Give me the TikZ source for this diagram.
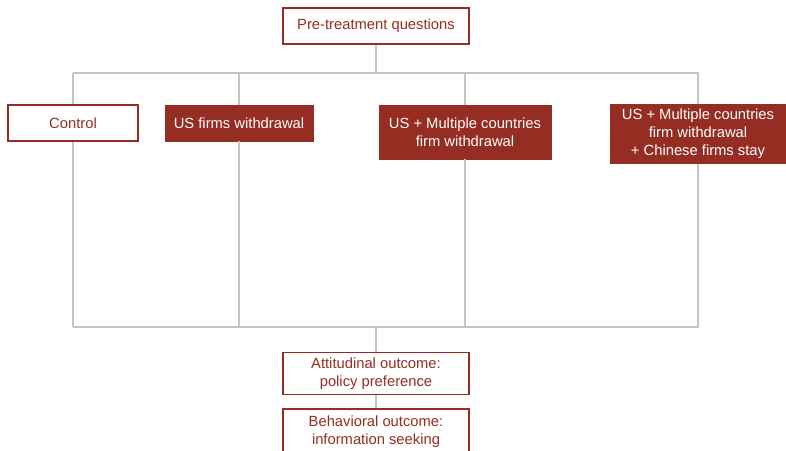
\documentclass[tikz,border=0pt]{standalone}
\usepackage{fontspec}
\setmainfont{Liberation Sans}
\definecolor{brick}{HTML}{962D22}
\definecolor{linegray}{HTML}{C4C4C4}

\begin{document}
\begin{tikzpicture}[
                x=0.03cm, y=-0.03cm,
                box/.style={rectangle, align=center, inner sep=0pt,
                    font=\fontsize{12.6}{15.3}\selectfont},
                openbox/.style={box, draw=brick, line width=1.3pt, fill=white, text=brick},
                fullbox/.style={box, draw=brick, line width=0.6pt, fill=brick, text=white},
                link/.style={draw=linegray, line width=1.6pt}]
        \useasboundingbox (0,0) rectangle (786,451);

        % Rails that collect the four arms.
        \coordinate (topL) at (73,73);
        \coordinate (topR) at (699,73);
        \coordinate (botL) at (73,327);
        \coordinate (botR) at (699,327);

        % Pre-treatment and the four arms.
        \node[openbox, minimum width=186*0.03cm, minimum height=36*0.03cm] (pre) at (376,26) {Pre-treatment questions};
        \node[openbox, minimum width=130*0.03cm, minimum height=36*0.03cm] (ctrl) at (73,123) {Control};
        \node[fullbox, minimum width=148*0.03cm, minimum height=36*0.03cm] (usw) at (239,123) {US firms withdrawal};
        \node[fullbox, minimum width=172*0.03cm, minimum height=54*0.03cm] (multi) at (465,132) {US + Multiple countries\\firm withdrawal};
        \node[fullbox, minimum width=176*0.03cm, minimum height=59*0.03cm] (china) at (698,134) {US + Multiple countries\\firm withdrawal\\+ Chinese firms stay};

        % Outcomes; the last box runs past the lower edge.
        \node[openbox, minimum width=186*0.03cm, minimum height=42*0.03cm] (att) at (376,373.5) {Attitudinal outcome:\\policy preference};
        \node[openbox, minimum width=186*0.03cm, minimum height=46*0.03cm] (beh) at (376,432) {Behavioral outcome:\\information seeking};

        % Connectors between the boxes and the two rails.
        \draw[link] (pre.south) -- (pre.south |- topL);
        \draw[link] (topL) -- (topR);
        \foreach \arm in {ctrl,usw,multi,china} {
                \draw[link] (\arm.north |- topL) -- (\arm.north);
                \draw[link] (\arm.south) -- (\arm.south |- botL);
        }
        \draw[link] (botL) -- (botR);
        \draw[link] (att.north |- botL) -- (att.north);
        \draw[link] (att.south) -- (beh.north);
\end{tikzpicture}
\end{document}
